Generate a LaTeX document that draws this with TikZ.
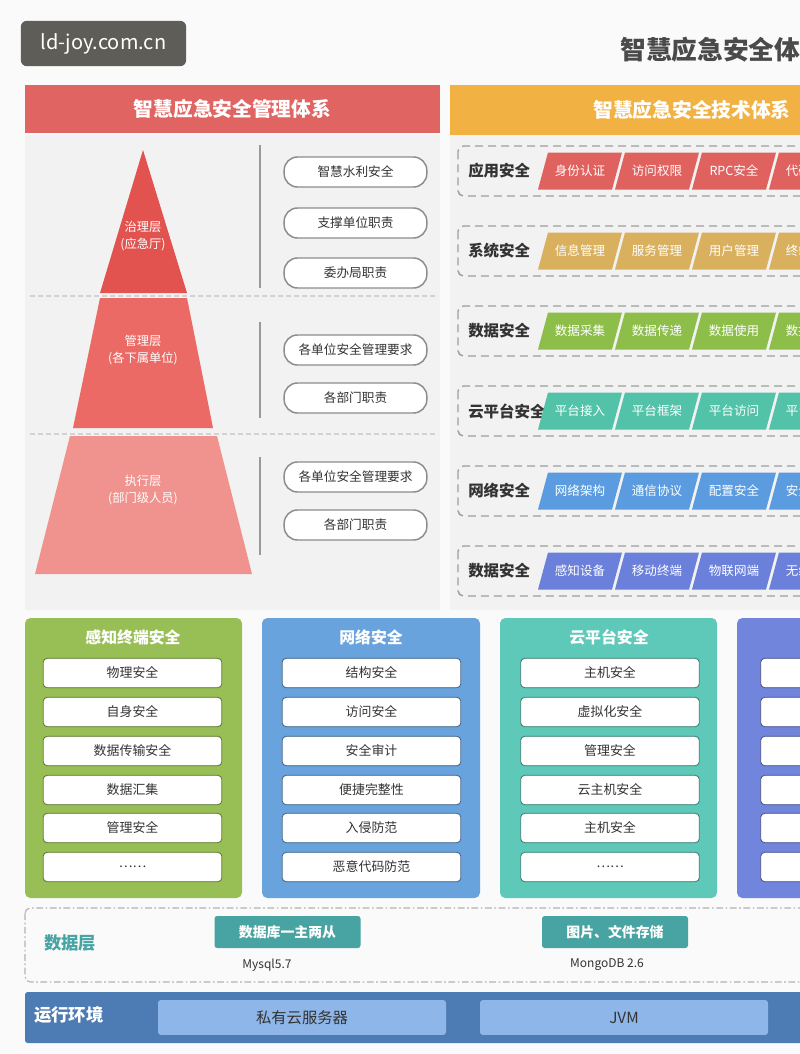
\documentclass[tikz,border=0pt]{standalone}
\usepackage{fontspec}
\setmainfont{Noto Sans CJK SC}

\definecolor{bg}{HTML}{FAFAFA}
\definecolor{panel}{HTML}{F2F2F2}
\definecolor{wm}{HTML}{5E5D57}
\definecolor{titlegray}{HTML}{4A4A4A}
\definecolor{mgmt}{HTML}{E06461}
\definecolor{tech}{HTML}{F2B143}
\definecolor{pyrtop}{HTML}{E2534F}
\definecolor{pyrmid}{HTML}{EC6A66}
\definecolor{pyrlow}{HTML}{F0928D}
\definecolor{pillgray}{HTML}{8C8C8C}
\definecolor{txt}{HTML}{333333}
\definecolor{app}{HTML}{E0625E}
\definecolor{sys}{HTML}{D9B05E}
\definecolor{dat}{HTML}{8DBE4A}
\definecolor{cld}{HTML}{52C2A8}
\definecolor{net}{HTML}{5A9CDF}
\definecolor{dev}{HTML}{6B80DA}
\definecolor{gpanel}{HTML}{98BF55}
\definecolor{bpanel}{HTML}{68A3DE}
\definecolor{tpanel}{HTML}{5EC9B8}
\definecolor{ipanel}{HTML}{7285DD}
\definecolor{dbteal}{HTML}{48A3A3}
\definecolor{runbg}{HTML}{4D7BB3}
\definecolor{runbox}{HTML}{8EB6E8}

\begin{document}
\begin{tikzpicture}[x=0.75pt,y=0.75pt]
\tikzstyle{every node}+=[inner sep=0pt]
\tikzstyle{pill}=[draw=pillgray, line width=1.1pt, fill=white, rounded corners=10pt, minimum width=107pt, minimum height=22.5pt, text=txt, font=\fontsize{9.5}{11}\selectfont]
\tikzstyle{lvl}=[align=center, text=white, font=\fontsize{9.2}{12.75}\selectfont]
\tikzstyle{rowlabel}=[anchor=west, text=txt, font=\fontsize{11.6}{13}\selectfont\bfseries]
\tikzstyle{ptxt}=[text=white, font=\fontsize{9.4}{11}\selectfont]
\tikzstyle{dashbox}=[draw=gray!75, line width=1.1pt, dash pattern=on 6pt off 3.75pt, rounded corners=4pt]
\tikzstyle{sep}=[draw=gray!35, line width=0.8pt, dash pattern=on 4pt off 2pt]
\tikzstyle{vline}=[draw=gray!80, line width=1.1pt]
\tikzstyle{ptitle}=[text=white, font=\fontsize{11.9}{13}\selectfont\bfseries]
\tikzstyle{item}=[fill=white, line width=0.6pt, rounded corners=3pt, minimum width=134pt, minimum height=22pt, text=txt, font=\fontsize{9.7}{11}\selectfont]
\tikzstyle{dbbox}=[fill=dbteal, rounded corners=2pt, minimum width=109.5pt, minimum height=24pt, text=white, font=\fontsize{10.4}{12}\selectfont\bfseries]
\tikzstyle{runitem}=[fill=runbox, rounded corners=2pt, minimum width=216pt, minimum height=26pt, text=txt, font=\fontsize{11.5}{13}\selectfont]

\useasboundingbox (0,0) rectangle (800,-1054);
\clip (0,0) rectangle (800,-1054);
\fill[bg] (0,0) rectangle (800,-1054);

% watermark and title
\node[fill=wm, rounded corners=4.5pt, minimum width=124pt, minimum height=34pt, text=white, font=\fontsize{15}{18}\selectfont] (mark) at (103.5,-43.5) {ld-joy.com.cn};
\node[anchor=west, text=titlegray, font=\fontsize{19.3}{22}\selectfont\bfseries] (title) at (620,-50) {智慧应急安全体系};

% headers
\node[fill=mgmt, minimum width=311.25pt, minimum height=36pt, text=white, font=\fontsize{14.8}{17}\selectfont\bfseries] (mhead) at (232.5,-109) {智慧应急安全管理体系};
\node[fill=tech, minimum width=363pt, minimum height=37.5pt, text=white, font=\fontsize{14.8}{17}\selectfont\bfseries] (thead) at (692,-110) {智慧应急安全技术体系};
\fill[panel] (25,-135) rectangle (440,-610);
\fill[panel] (450,-135) rectangle (800,-610);

% pyramid
\draw[sep] (30,-296) -- (438,-296);
\draw[sep] (30,-434) -- (438,-434);
\fill[pyrtop] (143,-150) -- (187,-293) -- (100,-293) -- cycle;
\fill[pyrmid] (100,-298) -- (187,-298) -- (213,-428) -- (73,-428) -- cycle;
\fill[pyrlow] (70,-436) -- (217,-436) -- (252,-574) -- (35,-574) -- cycle;
\node[lvl] (lv1) at (143,-236) {治理层\\(应急厅)};
\node[lvl] (lv2) at (143,-350) {管理层\\(各下属单位)};
\node[lvl] (lv3) at (143,-490) {执行层\\(部门级人员)};
\draw[vline] (260,-145) -- (260,-288);
\draw[vline] (260,-322) -- (260,-418);
\draw[vline] (260,-457) -- (260,-555);
\node[pill] (p1) at (355.5,-172) {智慧水利安全};
\node[pill] (p2) at (355.5,-223) {支撑单位职责};
\node[pill] (p3) at (355.5,-273) {委办局职责};
\node[pill] (p4) at (355.5,-350) {各单位安全管理要求};
\node[pill] (p5) at (355.5,-398) {各部门职责};
\node[pill] (p6) at (355.5,-477) {各单位安全管理要求};
\node[pill] (p7) at (355.5,-525) {各部门职责};

% technical rows
\draw[dashbox] (458,-146) rectangle (830,-196);
\node[rowlabel] (r1) at (468,-171) {应用安全};
\fill[app] (538,-189.5) -- ++(10,37) -- ++(74,0) -- ++(-10,-37) -- cycle;
\fill[app] (615,-189.5) -- ++(10,37) -- ++(74,0) -- ++(-10,-37) -- cycle;
\fill[app] (692,-189.5) -- ++(10,37) -- ++(74,0) -- ++(-10,-37) -- cycle;
\fill[app] (769,-189.5) -- ++(10,37) -- ++(74,0) -- ++(-10,-37) -- cycle;
\node[ptxt] (a1) at (580,-171) {身份认证};
\node[ptxt] (a2) at (657,-171) {访问权限};
\node[ptxt] (a3) at (734,-171) {RPC安全};
\node[ptxt] (a4) at (811,-171) {代码安全};

\draw[dashbox] (458,-226) rectangle (830,-276);
\node[rowlabel] (r2) at (468,-251) {系统安全};
\fill[sys] (538,-269.5) -- ++(10,37) -- ++(74,0) -- ++(-10,-37) -- cycle;
\fill[sys] (615,-269.5) -- ++(10,37) -- ++(74,0) -- ++(-10,-37) -- cycle;
\fill[sys] (692,-269.5) -- ++(10,37) -- ++(74,0) -- ++(-10,-37) -- cycle;
\fill[sys] (769,-269.5) -- ++(10,37) -- ++(74,0) -- ++(-10,-37) -- cycle;
\node[ptxt] (s1) at (580,-251) {信息管理};
\node[ptxt] (s2) at (657,-251) {服务管理};
\node[ptxt] (s3) at (734,-251) {用户管理};
\node[ptxt] (s4) at (811,-251) {终端管理};

\draw[dashbox] (458,-306) rectangle (830,-356);
\node[rowlabel] (r3) at (468,-331) {数据安全};
\fill[dat] (538,-349.5) -- ++(10,37) -- ++(74,0) -- ++(-10,-37) -- cycle;
\fill[dat] (615,-349.5) -- ++(10,37) -- ++(74,0) -- ++(-10,-37) -- cycle;
\fill[dat] (692,-349.5) -- ++(10,37) -- ++(74,0) -- ++(-10,-37) -- cycle;
\fill[dat] (769,-349.5) -- ++(10,37) -- ++(74,0) -- ++(-10,-37) -- cycle;
\node[ptxt] (d1) at (580,-331) {数据采集};
\node[ptxt] (d2) at (657,-331) {数据传递};
\node[ptxt] (d3) at (734,-331) {数据使用};
\node[ptxt] (d4) at (811,-331) {数据存储};

\draw[dashbox] (458,-386) rectangle (830,-436);
\node[rowlabel] (r4) at (468,-411) {云平台安全};
\fill[cld] (538,-429.5) -- ++(10,37) -- ++(74,0) -- ++(-10,-37) -- cycle;
\fill[cld] (615,-429.5) -- ++(10,37) -- ++(74,0) -- ++(-10,-37) -- cycle;
\fill[cld] (692,-429.5) -- ++(10,37) -- ++(74,0) -- ++(-10,-37) -- cycle;
\fill[cld] (769,-429.5) -- ++(10,37) -- ++(74,0) -- ++(-10,-37) -- cycle;
\node[ptxt] (c1) at (580,-411) {平台接入};
\node[ptxt] (c2) at (657,-411) {平台框架};
\node[ptxt] (c3) at (734,-411) {平台访问};
\node[ptxt] (c4) at (811,-411) {平台管理};

\draw[dashbox] (458,-466) rectangle (830,-516);
\node[rowlabel] (r5) at (468,-491) {网络安全};
\fill[net] (538,-509.5) -- ++(10,37) -- ++(74,0) -- ++(-10,-37) -- cycle;
\fill[net] (615,-509.5) -- ++(10,37) -- ++(74,0) -- ++(-10,-37) -- cycle;
\fill[net] (692,-509.5) -- ++(10,37) -- ++(74,0) -- ++(-10,-37) -- cycle;
\fill[net] (769,-509.5) -- ++(10,37) -- ++(74,0) -- ++(-10,-37) -- cycle;
\node[ptxt] (n1) at (580,-491) {网络架构};
\node[ptxt] (n2) at (657,-491) {通信协议};
\node[ptxt] (n3) at (734,-491) {配置安全};
\node[ptxt] (n4) at (811,-491) {安全审计};

\draw[dashbox] (458,-546) rectangle (830,-596);
\node[rowlabel] (r6) at (468,-571) {数据安全};
\fill[dev] (538,-589.5) -- ++(10,37) -- ++(74,0) -- ++(-10,-37) -- cycle;
\fill[dev] (615,-589.5) -- ++(10,37) -- ++(74,0) -- ++(-10,-37) -- cycle;
\fill[dev] (692,-589.5) -- ++(10,37) -- ++(74,0) -- ++(-10,-37) -- cycle;
\fill[dev] (769,-589.5) -- ++(10,37) -- ++(74,0) -- ++(-10,-37) -- cycle;
\node[ptxt] (e1) at (580,-571) {感知设备};
\node[ptxt] (e2) at (657,-571) {移动终端};
\node[ptxt] (e3) at (734,-571) {物联网端};
\node[ptxt] (e4) at (811,-571) {无线终端};

% security panels
\fill[gpanel, rounded corners=4pt] (25,-618) rectangle (242,-898);
\node[ptitle] (gt) at (133,-637) {感知终端安全};
\node[item, draw=gpanel!60!black] (g1) at (132.5,-673) {物理安全};
\node[item, draw=gpanel!60!black] (g2) at (132.5,-712) {自身安全};
\node[item, draw=gpanel!60!black] (g3) at (132.5,-751) {数据传输安全};
\node[item, draw=gpanel!60!black] (g4) at (132.5,-790) {数据汇集};
\node[item, draw=gpanel!60!black] (g5) at (132.5,-828) {管理安全};
\node[item, draw=gpanel!60!black] (g6) at (132.5,-867) {……};

\fill[bpanel, rounded corners=4pt] (262,-618) rectangle (480,-898);
\node[ptitle] (bt) at (371,-637) {网络安全};
\node[item, draw=bpanel!60!black] (b1) at (371.5,-673) {结构安全};
\node[item, draw=bpanel!60!black] (b2) at (371.5,-712) {访问安全};
\node[item, draw=bpanel!60!black] (b3) at (371.5,-751) {安全审计};
\node[item, draw=bpanel!60!black] (b4) at (371.5,-790) {便捷完整性};
\node[item, draw=bpanel!60!black] (b5) at (371.5,-828) {入侵防范};
\node[item, draw=bpanel!60!black] (b6) at (371.5,-867) {恶意代码防范};

\fill[tpanel, rounded corners=4pt] (500,-618) rectangle (717,-898);
\node[ptitle] (tt) at (609,-637) {云平台安全};
\node[item, draw=tpanel!60!black] (t1) at (610,-673) {主机安全};
\node[item, draw=tpanel!60!black] (t2) at (610,-712) {虚拟化安全};
\node[item, draw=tpanel!60!black] (t3) at (610,-751) {管理安全};
\node[item, draw=tpanel!60!black] (t4) at (610,-790) {云主机安全};
\node[item, draw=tpanel!60!black] (t5) at (610,-828) {主机安全};
\node[item, draw=tpanel!60!black] (t6) at (610,-867) {……};

\fill[ipanel, rounded corners=4pt] (737,-618) rectangle (955,-898);
\node[item, draw=ipanel!60!black] (i1) at (850,-673) {};
\node[item, draw=ipanel!60!black] (i2) at (850,-712) {};
\node[item, draw=ipanel!60!black] (i3) at (850,-751) {};
\node[item, draw=ipanel!60!black] (i4) at (850,-790) {};
\node[item, draw=ipanel!60!black] (i5) at (850,-828) {};
\node[item, draw=ipanel!60!black] (i6) at (850,-867) {};

% data layer
\draw[draw=gray!60, line width=0.8pt, dash pattern=on 5pt off 2pt on 1.2pt off 2pt, rounded corners=4pt] (25,-908) rectangle (830,-982);
\node[text=dbteal, font=\fontsize{13}{15}\selectfont\bfseries] (dl) at (70,-943) {数据层};
\node[dbbox] (db1) at (287.5,-932) {数据库一主两从};
\node[dbbox] (db2) at (615,-932) {图片、文件存储};
\node[text=txt, font=\fontsize{9}{11}\selectfont] (my) at (267,-965) {Mysql5.7};
\node[text=txt, font=\fontsize{9}{11}\selectfont] (mg) at (607,-965) {MongoDB 2.6};

% runtime
\fill[runbg, rounded corners=2pt] (25,-992) rectangle (830,-1043);
\node[text=white, font=\fontsize{13}{15}\selectfont\bfseries] (rt) at (69,-1015) {运行环境};
\node[runitem] (rt1) at (302,-1017.5) {私有云服务器};
\node[runitem] (rt2) at (624,-1017.5) {JVM};
\end{tikzpicture}
\end{document}
